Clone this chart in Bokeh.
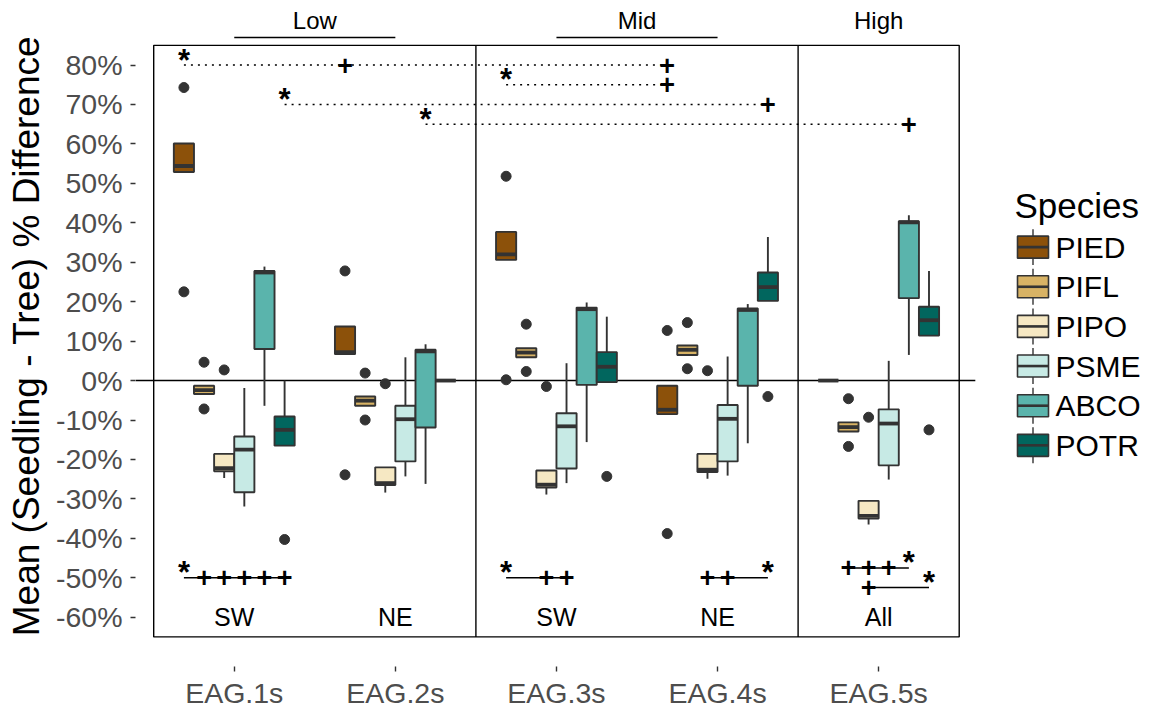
from bokeh.plotting import figure
from bokeh.models import Range1d, FixedTicker, ColumnDataSource
from bokeh.core.properties import value
from bokeh.embed import file_html
from bokeh.resources import INLINE

FONT = "Liberation Sans"

# ---------------- data ----------------
categories = ["EAG.1s", "EAG.2s", "EAG.3s", "EAG.4s", "EAG.5s"]
aspects = ["SW", "NE", "SW", "NE", "All"]
elevations = ["Low", "Mid", "High"]
elevation_sites = [[0, 1], [2, 3], [4]]
species = ["PIED", "PIFL", "PIPO", "PSME", "ABCO", "POTR"]
colors = ["#8C510A", "#D8B365", "#F6E8C3", "#C7EAE5", "#5AB4AC", "#01665E"]
y_ticks = [-60, -50, -40, -30, -20, -10, 0, 10, 20, 30, 40, 50, 60, 70, 80]

# rows = species, cols = sites (values in %)
lower_whisker = [
    [52.9, 6.7, 30.6, -8.5, 0.0],
    [-3.4, -6.4, 5.9, 6.5, -12.9],
    [-24.7, -28.4, -28.9, -24.9, -36.5],
    [-31.9, -24.3, -26.0, -24.1, -25.1],
    [-6.4, -26.2, -15.6, -15.9, 6.5],
    [-16.5, 0.0, -0.4, 20.2, 11.4],
]
q1 = [
    [52.9, 6.7, 30.6, -8.5, 0.0],
    [-3.4, -6.4, 5.9, 6.5, -12.9],
    [-23.0, -26.5, -27.1, -23.2, -35.0],
    [-28.3, -20.5, -22.3, -20.5, -21.5],
    [8.0, -11.9, -1.1, -1.3, 20.9],
    [-16.5, 0.0, -0.4, 20.2, 11.4],
]
median = [
    [54.4, 7.2, 32.0, -7.4, 0.0],
    [-2.4, -5.1, 7.1, 7.8, -11.8],
    [-22.2, -26.0, -26.4, -22.6, -34.3],
    [-17.5, -9.8, -11.6, -9.7, -10.9],
    [27.4, 7.4, 18.1, 17.9, 40.1],
    [-12.5, 0.0, 3.5, 23.7, 15.3],
]
q3 = [
    [60.1, 13.7, 37.7, -1.3, 0.0],
    [-1.3, -4.05, 8.2, 8.9, -10.6],
    [-18.6, -22.0, -22.8, -18.6, -30.5],
    [-14.2, -6.4, -8.3, -6.2, -7.3],
    [27.8, 7.8, 18.5, 18.3, 40.4],
    [-9.1, 0.0, 7.2, 27.4, 18.7],
]
upper_whisker = [
    [60.1, 13.7, 37.7, -1.3, 0.0],
    [-1.3, -4.05, 8.2, 8.9, -10.6],
    [-18.6, -22.0, -22.8, -18.6, -30.5],
    [-1.9, 5.9, 4.4, 6.1, 5.0],
    [28.9, 9.2, 19.8, 19.4, 41.9],
    [0.0, 0.0, 16.2, 36.4, 27.8],
]

outlier_site = [0, 0, 1, 1, 2, 2, 3, 3,
                0, 0, 1, 1, 2, 2, 3, 3, 4, 4,
                0, 1, 2, 3, 4,
                0, 2, 3, 4]
outlier_species = ["PIED"] * 8 + ["PIFL"] * 10 + ["PIPO"] * 5 + ["POTR"] * 4
outlier_value = [74.3, 22.5, 27.8, -23.9, 51.8, 0.2, 12.7, -38.8,
                 4.65, -7.2, 1.9, -10.0, 14.3, 2.3, 14.7, 3.0, -4.6, -16.7,
                 2.7, -0.8, -1.5, 2.5, -9.3,
                 -40.3, -24.3, -4.05, -12.5]

# between-site comparisons (dotted): y, star (site, species), plus markers
top_sig_y = [80, 75, 70, 65]
top_sig_star = [(0, "PIED"), (2, "PIED"), (0, "POTR"), (1, "ABCO")]
top_sig_plus = [[(1, "PIED"), (3, "PIED")], [(3, "PIED")], [(3, "POTR")], [(4, "ABCO")]]

# within-site comparisons (solid)
bot_sig_y = [-50, -50, -50, -47.5, -52.5]
bot_sig_site = [0, 2, 3, 4, 4]
bot_sig_star = ["PIED", "PIED", "POTR", "ABCO", "POTR"]
bot_sig_plus = [["PIFL", "PIPO", "PSME", "ABCO", "POTR"], ["PIPO", "PSME"],
                ["PIPO", "PSME"], ["PIFL", "PIPO", "PSME"], ["PIPO"]]

# ---------------- figure ----------------
n = len(categories)
LEFT = 135
TOP = 5
BOTTOM = 44
PX_PER_SITE = 161.1
X0 = 0.387
X_PANEL_END = n + 0.6
FRAME_W = 1155 - LEFT
Y0, Y1 = -72.5, 95.1
PX_PER_PCT = (711 - TOP - BOTTOM) / (Y1 - Y0)

p = figure(width=1155, height=711,
           x_range=Range1d(X0, X0 + FRAME_W / PX_PER_SITE), y_range=Range1d(Y0, Y1),
           output_backend="svg", toolbar_location=None,
           min_border_left=LEFT, min_border_right=0, min_border_top=TOP,
           min_border_bottom=BOTTOM)
p.outline_line_color = None
p.xgrid.visible = False
p.ygrid.visible = False
p.background_fill_color = "white"
p.border_fill_color = "white"

DODGE = 0.75
SLOT = DODGE / len(species)


def xpos(site, sp):
    si = species.index(sp)
    return site + 1 - DODGE / 2 + SLOT * (si + 0.5)


# zero line
p.line([X0, X_PANEL_END], [0, 0], line_color="black", line_width=1.4)

# panel box and separators
p.quad(left=[0.5], right=[n + 0.5], bottom=[-65], top=[85], fill_color=None,
       line_color="black", line_width=1.4)
seps = [g[-1] + 1.5 for g in elevation_sites[:-1]]
p.segment(x0=seps, x1=seps, y0=[-65] * len(seps), y1=[85] * len(seps),
          line_color="black", line_width=1.4)

for si, sp in enumerate(species):
    xs = [xpos(c, sp) for c in range(n)]
    src = ColumnDataSource(dict(
        x=xs, x0=[x - SLOT / 2 for x in xs], x1=[x + SLOT / 2 for x in xs],
        lw=lower_whisker[si], q1=q1[si], med=median[si], q3=q3[si], uw=upper_whisker[si]))
    p.segment(x0="x", y0="q3", x1="x", y1="uw", source=src, line_color="#333333", line_width=1.9)
    p.segment(x0="x", y0="lw", x1="x", y1="q1", source=src, line_color="#333333", line_width=1.9)
    p.vbar(x="x", width=SLOT, bottom="q1", top="q3", source=src,
           fill_color=colors[si], line_color="#333333", line_width=1.9)
    p.segment(x0="x0", y0="med", x1="x1", y1="med", source=src,
              line_color="#333333", line_width=3.8)

# outliers
ox = [xpos(s, sp) for s, sp in zip(outlier_site, outlier_species)]
p.scatter(ox, outlier_value, size=10, color="#333333")

PLUS_SIZE = "27px"
STAR_SIZE = "31px"
STAR_OFF = -5


def sig_text(xs, ys, mark, size, yoff=0):
    p.text(xs, ys, text=[mark] * len(xs), text_align="center", text_baseline="middle",
           y_offset=yoff, text_font=value(FONT), text_font_size=size,
           text_font_style="bold", text_color="black")


# dotted comparisons
for y, star, plus in zip(top_sig_y, top_sig_star, top_sig_plus):
    xs = xpos(*star)
    xe = max(xpos(*q) for q in plus)
    p.line([xs, xe], [y, y], line_color="black", line_width=1.5, line_dash="2 5")
    sig_text([xs], [y], "*", STAR_SIZE, STAR_OFF)
    sig_text([xpos(*q) for q in plus], [y] * len(plus), "+", PLUS_SIZE)

# solid comparisons
for y, site, star, plus in zip(bot_sig_y, bot_sig_site, bot_sig_star, bot_sig_plus):
    allx = [xpos(site, star)] + [xpos(site, q) for q in plus]
    p.line([min(allx), max(allx)], [y, y], line_color="black", line_width=1.5)
    sig_text([xpos(site, star)], [y], "*", STAR_SIZE, STAR_OFF)
    sig_text([xpos(site, q) for q in plus], [y] * len(plus), "+", PLUS_SIZE)

# aspect labels
p.text([c + 1 for c in range(n)], [-60] * n, text=aspects, text_align="center",
       text_baseline="middle", text_font=value(FONT), text_font_size="25px", text_color="black")

# elevation labels
ex = [sum(g) / len(g) + 1 for g in elevation_sites]
p.text(ex, [91.4] * len(ex), text=elevations, text_align="center", text_baseline="middle",
       text_font=value(FONT), text_font_size="24px", text_color="black")
for g in elevation_sites:
    if len(g) > 1:
        p.line([g[0] + 1, g[-1] + 1], [87, 87], line_color="black", line_width=1.5)

# ---------------- legend (drawn as glyphs right of the panel) ----------------
def sx(px):
    return X0 + (px - LEFT) / PX_PER_SITE


def sy(py):
    return Y1 - (py - TOP) / PX_PER_PCT


KEY_L, KEY_W, KEY_H, STUB = 1017, 31, 22, 7
ROW0, ROW_STEP = 247, 39.7
key_cx = sx(KEY_L + KEY_W / 2)
rows = [sy(ROW0 + ROW_STEP * i) for i in range(len(species))]
p.segment(x0=[key_cx] * len(rows), x1=[key_cx] * len(rows),
          y0=[sy(ROW0 + ROW_STEP * i - KEY_H / 2 - STUB) for i in range(len(species))],
          y1=[sy(ROW0 + ROW_STEP * i + KEY_H / 2 + STUB) for i in range(len(species))],
          line_color="#333333", line_width=1.4)
p.rect(x=[key_cx] * len(rows), y=rows, width=KEY_W, height=KEY_H,
       width_units="screen", height_units="screen",
       fill_color=colors, line_color="#333333", line_width=1.6)
p.segment(x0=[sx(KEY_L)] * len(rows), x1=[sx(KEY_L + KEY_W)] * len(rows), y0=rows, y1=rows,
          line_color="#333333", line_width=2.6)
p.text([sx(1055)] * len(rows), rows, text=species, text_align="left", text_baseline="middle",
       text_font=value(FONT), text_font_size="30px", text_color="black")
p.text([sx(1014)], [sy(205)], text=["Species"], text_align="left", text_baseline="middle",
       text_font=value(FONT), text_font_size="35px", text_color="black")

# ---------------- axes ----------------
p.xaxis.ticker = FixedTicker(ticks=[c + 1 for c in range(n)])
p.xaxis.major_label_overrides = {c + 1: cat for c, cat in enumerate(categories)}
p.yaxis.ticker = FixedTicker(ticks=y_ticks)
p.yaxis.major_label_overrides = {t: f"{t}%" for t in y_ticks}
for ax in (p.xaxis[0], p.yaxis[0]):
    ax.axis_line_color = None
    ax.major_tick_line_color = "#333333"
    ax.major_tick_line_width = 1.4
    ax.major_tick_out = 5
    ax.major_tick_in = 0
    ax.minor_tick_line_color = None
    ax.major_label_text_font = FONT
    ax.major_label_text_font_size = "28.5px"
    ax.major_label_text_color = "#4D4D4D"
p.xaxis.major_label_standoff = 5
p.yaxis.major_label_standoff = 8
p.yaxis.axis_label = "Mean (Seedling - Tree) % Difference"
p.yaxis.axis_label_text_font = FONT
p.yaxis.axis_label_text_font_size = "37px"
p.yaxis.axis_label_text_font_style = "normal"
p.yaxis.axis_label_text_color = "black"
p.yaxis.axis_label_standoff = 6

open("out.html", "w").write(file_html(p, INLINE))
